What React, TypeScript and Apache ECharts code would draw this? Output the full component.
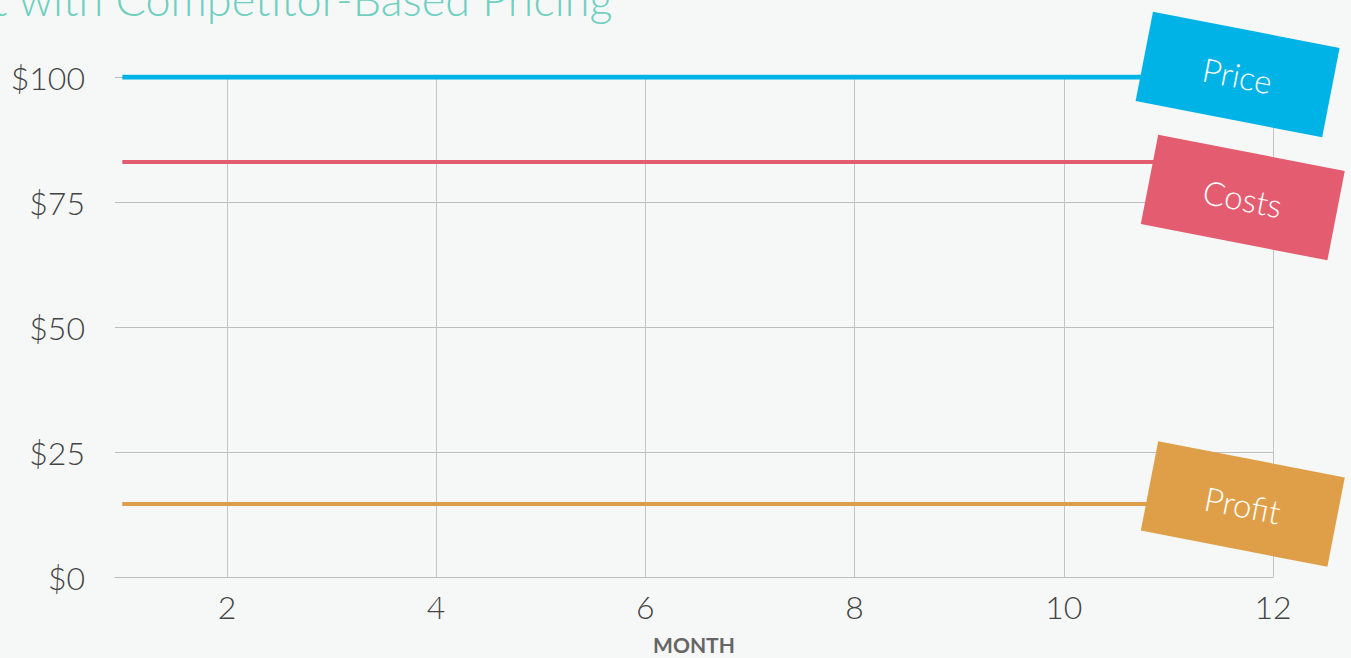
import React, { useEffect, useRef } from "react";
import * as echarts from "echarts";

const months = [1, 2, 3, 4, 5, 6, 7, 8, 9, 10, 11, 12];
const price = [100, 100, 100, 100, 100, 100, 100, 100, 100, 100, 100, 100];
const costs = [83, 83, 83, 83, 83, 83, 83, 83, 83, 83, 83, 83];
const profit = [14.6, 14.6, 14.6, 14.6, 14.6, 14.6, 14.6, 14.6, 14.6, 14.6, 14.6, 14.6];
const monthTicks = [2, 4, 6, 8, 10, 12];
const titleText = "t with Competitor-Based Pricing";
const xName = "MONTH";

const seriesDefs = [
  { name: "Price", values: price, color: "#00b3e6", width: 5, label: { cx: 1237.5, cy: 75 } },
  { name: "Costs", values: costs, color: "#e45c6f", width: 4, label: { cx: 1242.7, cy: 198 } },
  { name: "Profit", values: profit, color: "#df9f48", width: 4, label: { cx: 1242.7, cy: 504.5 } },
];

export default function App() {
  const ref = useRef<HTMLDivElement>(null);
  useEffect(() => {
    if (!ref.current) return;
    const chart = echarts.init(ref.current, null, { renderer: "svg" });
    const labelFont = "300 33px Lato";
    chart.setOption({
      animation: false,
      backgroundColor: "#f6f8f7",
      grid: { left: 115, right: 78, top: 77, bottom: 81, containLabel: false, outerBoundsMode: "none" },
      xAxis: {
        type: "value",
        min: 0.93,
        max: 12,
        name: xName,
        nameLocation: "middle",
        nameGap: 57,
        nameTextStyle: { fontFamily: "Lato", fontWeight: "bold", fontSize: 21, color: "#666" },
        axisLine: { show: true, lineStyle: { color: "#bdbdbd", width: 1 } },
        axisTick: { show: false, customValues: monthTicks },
        axisLabel: {
          customValues: monthTicks,
          fontFamily: "Lato",
          fontWeight: 300,
          fontSize: 32,
          color: "#444",
          margin: 13,
        },
        splitLine: { show: true, lineStyle: { color: "#c4c4c4", width: 1 } },
      },
      yAxis: {
        type: "value",
        min: 0,
        max: 100,
        interval: 25,
        axisLine: { show: false },
        axisTick: { show: false },
        axisLabel: {
          formatter: (v: number) => "$" + v,
          fontFamily: "Lato",
          fontWeight: 300,
          fontSize: 32,
          color: "#444",
          margin: 30,
        },
        splitLine: { show: true, lineStyle: { color: "#bdbdbd", width: 1 } },
      },
      series: seriesDefs.map((s) => ({
        name: s.name,
        type: "line",
        showSymbol: false,
        symbol: "none",
        data: months.map((m, i) => [m, s.values[i]]),
        lineStyle: { color: s.color, width: s.width },
        itemStyle: { color: s.color },
        z: 3,
      })),
      graphic: [
        {
          type: "text",
          left: -8,
          top: -24,
          style: {
            text: titleText,
            font: "300 45px Lato",
            fill: "#6fcfc0",
          },
        },
        ...seriesDefs.map((s) => ({
          type: "group",
          x: s.label.cx,
          y: s.label.cy,
          rotation: (-11 * Math.PI) / 180,
          z: 100,
          children: [
            {
              type: "rect",
              z: 100,
              shape: { x: -95, y: -46, width: 190, height: 91 },
              style: { fill: s.color },
            },
            {
              type: "text",
              z: 101,
              x: 0,
              y: 0,
              style: {
                text: s.name,
                font: labelFont,
                fill: "#ffffff",
                textAlign: "center",
                textVerticalAlign: "middle",
              },
            },
          ],
        })),
      ],
    });
    return () => chart.dispose();
  }, []);
  return (
    <div
      ref={ref}
      style={{ position: "fixed", left: 0, top: 0, width: 1351, height: 658, background: "#f6f8f7" }}
    />
  );
}
